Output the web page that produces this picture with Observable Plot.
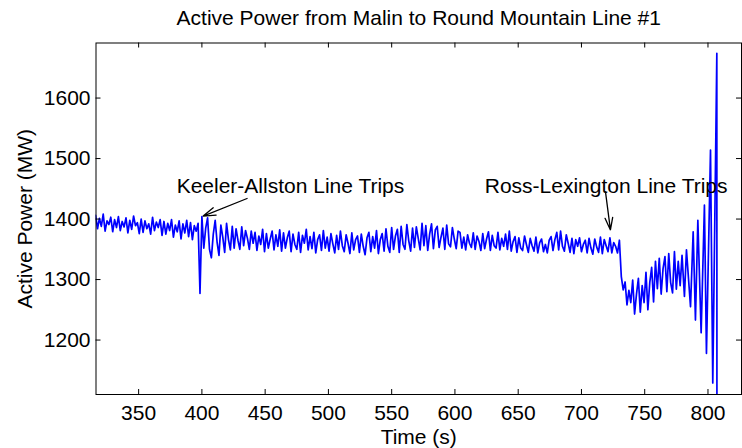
<!DOCTYPE html>
<html>
<head>
<meta charset="utf-8">
<script src="https://cdn.jsdelivr.net/npm/d3@7"></script>
<script src="https://cdn.jsdelivr.net/npm/@observablehq/plot@0.6"></script>
<style>
  html, body { margin: 0; padding: 0; background: #fff; }
</style>
</head>
<body>
<div id="chart"></div>
<script>
// Active power on the Malin - Round Mountain #1 line, sampled every 1.5 s from t = 316 s
const sampleStart = 316;
const sampleStep = 1.5;
const powerMW = [
  1406,1384,1401,1388,1408,1380,1397,1391,1403,1379,1399,1386,
  1404,1381,1396,1387,1402,1377,1398,1383,1405,1389,1394,1376,
  1400,1378,1397,1384,1392,1375,1403,1381,1395,1386,1399,1373,
  1396,1375,1393,1381,1399,1370,1390,1379,1397,1367,1392,1377,
  1398,1371,1394,1366,1389,1380,1393,1277,1404,1352,1385,1402,
  1350,1336,1375,1398,1362,1340,1390,1370,1345,1393,1366,1349,
  1388,1352,1384,1365,1350,1387,1356,1381,1368,1350,1380,1360,
  1378,1348,1372,1358,1383,1346,1376,1352,1367,1380,1349,1374,
  1355,1382,1347,1377,1352,1369,1380,1346,1375,1358,1350,1378,
  1345,1373,1360,1383,1349,1371,1351,1378,1344,1366,1374,1348,
  1381,1352,1370,1347,1376,1359,1344,1373,1350,1380,1356,1346,
  1374,1360,1343,1377,1349,1366,1372,1345,1375,1355,1341,1369,
  1378,1346,1371,1352,1381,1343,1366,1376,1347,1384,1355,1345,
  1386,1350,1372,1383,1345,1388,1358,1350,1391,1364,1347,1385,
  1353,1387,1368,1349,1393,1356,1389,1348,1375,1392,1351,1382,
  1388,1353,1370,1385,1350,1390,1359,1354,1386,1367,1351,1380,
  1378,1352,1370,1349,1374,1360,1353,1377,1350,1372,1363,1348,
  1376,1351,1367,1379,1348,1373,1356,1352,1378,1349,1368,1355,
  1375,1350,1380,1347,1363,1371,1345,1369,1352,1348,1372,1358,
  1345,1368,1356,1347,1370,1344,1361,1367,1346,1358,1344,1365,
  1371,1348,1366,1378,1349,1380,1355,1347,1374,1360,1345,1368,
  1343,1366,1355,1369,1346,1358,1365,1344,1368,1352,1342,1367,
  1354,1345,1370,1343,1366,1356,1346,1369,1344,1361,1355,1344,
  1365,1305,1283,1296,1258,1282,1262,1299,1243,1276,1302,1246,
  1290,1262,1312,1250,1295,1320,1263,1330,1285,1335,1276,1318,
  1338,1280,1343,1295,1278,1346,1284,1330,1290,1340
];

// Final growing swings and the collapse (irregular sample times)
const tailTime = [781.4, 783.0, 786.2, 788.3, 790.1, 792.0, 794.6, 797.2, 798.8, 802.0, 803.8, 806.3, 807.0, 807.1];
const tailMW   = [1272, 1349, 1255, 1379, 1233, 1398, 1212, 1423, 1178, 1514, 1129, 1550, 1674, 1000];

const xTicks = [350, 400, 450, 500, 550, 600, 650, 700, 750, 800];
const yTicks = [1200, 1300, 1400, 1500, 1600];
const xDomain = [316.3, 826.5];
const yDomain = [1110, 1691];

const titleText = "Active Power from Malin to Round Mountain Line #1";
const xLabel = "Time (s)";
const yLabel = "Active Power (MW)";

// Event annotations (label position and arrow, in time / MW)
const noteLabels = ["Keeler-Allston Line Trips", "Ross-Lexington Line Trips"];
const noteX = [470, 719.5];
const noteY = [1454, 1454];
const arrowX1 = [435.7, 719.0];
const arrowY1 = [1434, 1445];
const arrowX2 = [401.0, 722.9];
const arrowY2 = [1405, 1382];

const series = powerMW.map((mw, i) => ({t: sampleStart + i * sampleStep, mw}))
  .concat(tailTime.map((t, i) => ({t, mw: tailMW[i]})));
const notes = noteLabels.map((label, i) => ({label, x: noteX[i], y: noteY[i]}));
const arrows = arrowX1.map((x1, i) => ({x1, y1: arrowY1[i], x2: arrowX2[i], y2: arrowY2[i]}));

const W = 742, H = 448;
const mL = 95.5, mR = 1, mT = 42.5, mB = 54;
const frameW = W - mL - mR, frameH = H - mT - mB;
const tick = 5;
const font = "'Liberation Sans', Arial, Helvetica, sans-serif";
const fs = 21;

const chart = Plot.plot({
  width: W,
  height: H,
  marginLeft: mL,
  marginRight: mR,
  marginTop: mT,
  marginBottom: mB,
  style: {fontFamily: font, fontSize: fs + "px", color: "#000", background: "#fff"},
  x: {domain: xDomain},
  y: {domain: yDomain},
  marks: [
    Plot.line(series, {x: "t", y: "mw", stroke: "#0000ff", strokeWidth: 1.7, clip: true}),
    Plot.frame({stroke: "#000", strokeWidth: 1}),
    // inward ticks on all four sides
    Plot.tickX(xTicks, {x: d => d, insetTop: frameH - tick, stroke: "#000"}),
    Plot.tickX(xTicks, {x: d => d, insetBottom: frameH - tick, stroke: "#000"}),
    Plot.tickY(yTicks, {y: d => d, insetRight: frameW - tick, stroke: "#000"}),
    Plot.tickY(yTicks, {y: d => d, insetLeft: frameW - tick, stroke: "#000"}),
    Plot.axisX({ticks: xTicks, tickSize: 0, tickPadding: 11, label: null, fontSize: fs, tickFormat: d => `${d}`}),
    Plot.axisY({ticks: yTicks, tickSize: 0, tickPadding: 5.5, label: null, fontSize: fs, tickFormat: d => `${d}`}),
    Plot.text([titleText], {text: d => d, frameAnchor: "top", lineAnchor: "middle", dy: -24.5, fontSize: fs}),
    Plot.text([xLabel], {text: d => d, frameAnchor: "bottom", lineAnchor: "middle", dy: 43, fontSize: fs}),
    Plot.text([yLabel], {text: d => d, frameAnchor: "left", textAnchor: "middle", lineAnchor: "middle", dx: -70.5, rotate: -90, fontSize: fs}),
    Plot.text(notes, {x: "x", y: "y", text: "label", fontSize: fs}),
    Plot.arrow(arrows, {x1: "x1", y1: "y1", x2: "x2", y2: "y2", stroke: "#000", strokeWidth: 1.3, headLength: 15, headAngle: 35})
  ]
});

document.getElementById("chart").append(chart);
</script>
</body>
</html>
